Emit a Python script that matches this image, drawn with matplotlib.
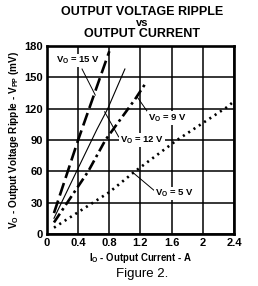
import matplotlib
matplotlib.use("Agg")
import matplotlib.pyplot as plt

plt.rcParams['font.family'] = ['Liberation Sans', 'DejaVu Sans']
plt.rcParams['mathtext.default'] = 'regular'

# odczyt z wykresu
i_15 = [0.09, 0.4, 0.8]
v_15 = [20, 90, 175]
i_12 = [0.09, 0.4, 0.64, 0.78, 1.0]
v_12 = [15, 63, 100, 120, 158]
i_9 = [0.09, 0.53, 0.75, 1.13, 1.28]
v_9 = [11, 60, 90, 129, 146]
i_5 = [0.09, 0.8, 1.13, 1.67, 2.3, 2.4]
v_5 = [6, 40, 60, 90, 121, 127]

x_ticks = [0, 0.4, 0.8, 1.2, 1.6, 2, 2.4]
x_labels = ["0", "0.4", "0.8", "1.2", "1.6", "2", "2.4"]
y_ticks = [0, 30, 60, 90, 120, 150, 180]

fig = plt.figure(figsize=(2.58, 2.86), dpi=100)
ax = fig.add_axes([0.182, 0.182, 0.725, 0.657])

ax.plot(i_15, v_15, color='black', lw=1.9, dashes=(5, 2))
ax.plot(i_12, v_12, color='black', lw=0.8)
ax.plot(i_9, v_9, color='black', lw=1.9, dashes=(4, 1.5, 1, 1.5))
ax.plot(i_5, v_5, color='black', lw=1.9, dashes=(0.8, 1.6))

ax.set_xlim(0, 2.4)
ax.set_ylim(0, 180)
ax.set_xticks(x_ticks)
ax.set_xticklabels(x_labels)
ax.set_yticks(y_ticks)
ax.tick_params(length=0, labelsize=8, pad=3)
for t in ax.get_xticklabels() + ax.get_yticklabels():
    t.set_fontweight('bold')
ax.grid(True, color='black', lw=1.1)
for s in ax.spines.values():
    s.set_linewidth(1.9)

# etykiety krzywych
opis = dict(fontsize=6.8, fontweight='bold', ha='left', va='center',
            bbox=dict(facecolor='white', edgecolor='none', pad=0.6), zorder=5)
ax.text(0.11, 166, "V$_O$ = 15 V", **opis)
ax.plot([0.45, 0.62], [158, 133], color='black', lw=0.7)
ax.text(0.94, 90, "V$_O$ = 12 V", **opis)
ax.plot([0.74, 0.92], [117, 93], color='black', lw=0.7)
ax.text(1.3, 111, "V$_O$ = 9 V", **opis)
ax.plot([1.16, 1.3], [131, 116], color='black', lw=0.7)
ax.text(1.38, 39, "V$_O$ = 5 V", **opis)
ax.plot([1.1, 1.37], [59, 42], color='black', lw=0.7)

ax.set_ylabel("V$_O$ - Output Voltage Ripple - V$_{PP}$ (mV)", fontsize=7.2,
              fontweight='bold', labelpad=2)
ax.set_xlabel("I$_O$ - Output Current - A", fontsize=6.9, fontweight='bold', labelpad=2)

fig.text(0.55, 0.957, "OUTPUT VOLTAGE RIPPLE", fontsize=9, fontweight='bold', ha='center', va='center')
fig.text(0.55, 0.918, "vs", fontsize=8, fontweight='bold', ha='center', va='center')
fig.text(0.55, 0.881, "OUTPUT CURRENT", fontsize=9, fontweight='bold', ha='center', va='center')
fig.text(0.55, 0.042, "Figure 2.", fontsize=9.5, ha='center', va='center')

fig.savefig("out.png", dpi=100)
plt.close()
